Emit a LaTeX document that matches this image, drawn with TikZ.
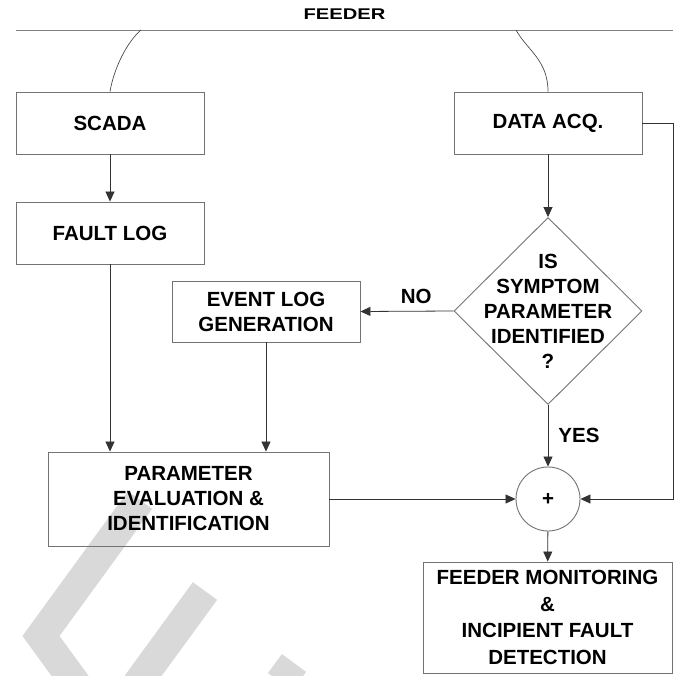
\documentclass[tikz,border=0pt]{standalone}
\usepackage{fontspec}
\setmainfont{Liberation Sans}
\usetikzlibrary{shapes.geometric, arrows.meta}

\tikzset{
  txt/.style={font=\bfseries\fontsize{20.5}{25}\selectfont, align=center, text=black},
  block/.style={txt, draw=black!55, line width=0.9pt, minimum width=188pt, minimum height=62pt, inner sep=0pt},
  decision/.style={diamond, draw=black!55, line width=0.9pt, minimum width=188pt, minimum height=187pt, inner sep=0pt},
  sumjunc/.style={circle, txt, draw=black!55, line width=0.9pt, minimum size=64pt, inner sep=0pt},
  flow/.style={-{Triangle[length=10pt,width=9pt]}, line width=0.8pt, black!80},
  tap/.style={line width=0.7pt, black!70},
  wmark/.style={line width=30pt, black!15},
}

\begin{document}
\begin{tikzpicture}[x=1pt, y=-1pt]
\useasboundingbox (0,0) rectangle (685,676);

% grey marks in the lower left corner
\begin{scope}
\clip (0,0) rectangle (685,676);
\draw[wmark] (140,500) -- (41,636) -- (100,717);
\draw[wmark] (205,591) -- (143,676) -- (130,694);
\draw[wmark] (294,663) -- (280,682);
\end{scope}

% feeder bus and the two taps
\node[font=\bfseries\fontsize{15.5}{18}\selectfont] (feeder) at (344.5,14) {\scalebox{1.3}[1]{FEEDER}};
\coordinate (busl) at (16,30);
\coordinate (busr) at (673,30);
\draw[line width=0.8pt, black!50] (busl) -- (busr);
\coordinate (tapl) at (141,30);
\coordinate (tapr) at (516,30);

\node[block] (scada) at (110,123) {SCADA};
\node[block] (dataacq) at (548,123) {DATA ACQ.};
\node[block] (faultlog) at (110,233) {FAULT LOG};
\node[block, minimum height=61pt] (eventlog) at (266,311.5) {EVENT LOG\\GENERATION};
\node[block, minimum width=281pt, minimum height=94pt] (param) at (188.5,499) {PARAMETER\\EVALUATION \&\\IDENTIFICATION};
\node[decision] (dec) at (548,311) {};
\node[txt] (dectxt) at (dec) {IS\\SYMPTOM\\PARAMETER\\IDENTIFIED\\?};
\node[sumjunc] (sum) at (548,499) {+};
\node[block, minimum width=249pt, minimum height=111pt, font=\bfseries\fontsize{20.5}{26.5}\selectfont] (monitor) at (547.5,617.5) {FEEDER MONITORING\\\&\\INCIPIENT FAULT\\DETECTION};
\coordinate (rgt) at (673,499);

\draw[tap] (tapl) .. controls (127,42) and (114,68) .. (scada.north);
\draw[tap] (tapr) .. controls (527,50) and (548,60) .. (dataacq.north);

\draw[flow] (scada) -- (faultlog);
\draw[flow] (dataacq) -- (dec.north);
\draw[flow] (dec.west) -- node[txt, pos=0.4, above=7pt, inner sep=0pt] (no) {NO} (eventlog.east);
\draw[flow] (dec.south) -- node[txt, right=10pt, inner sep=0pt] (yes) {YES} (sum.north);
\draw[flow] (faultlog) -- (faultlog |- param.north);
\draw[flow] (eventlog) -- (eventlog |- param.north);
\draw[flow] (param) -- (sum);
\draw[flow] (dataacq.east) -| (rgt) -- (sum.east);
\draw[flow] (sum) -- (monitor);
\end{tikzpicture}
\end{document}
